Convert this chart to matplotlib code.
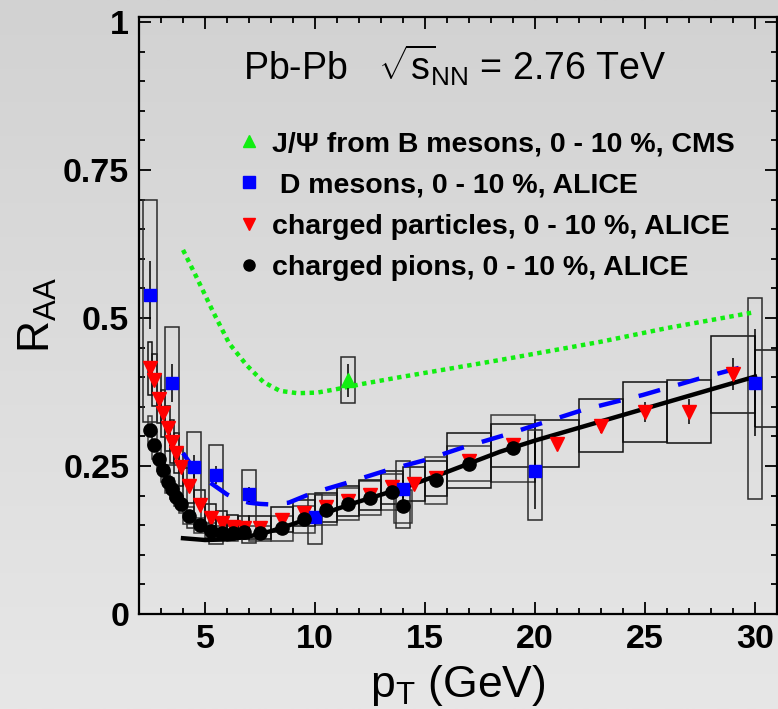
import numpy as np
import matplotlib.pyplot as plt
from matplotlib.lines import Line2D
from matplotlib.ticker import MultipleLocator
from matplotlib.colors import LinearSegmentedColormap

plt.rcParams['font.family'] = ['Liberation Sans', 'DejaVu Sans']
plt.rcParams['mathtext.fontset'] = 'custom'
plt.rcParams['mathtext.rm'] = 'Liberation Sans'
plt.rcParams['mathtext.it'] = 'Liberation Sans'
plt.rcParams['mathtext.bf'] = 'Liberation Sans:bold'

# charged pions, 0-10 %, ALICE
pt_pi = [2.5, 2.7, 2.9, 3.1, 3.3, 3.5, 3.7, 3.9, 4.25, 4.75, 5.25, 5.75, 6.25,
         6.75, 7.5, 8.5, 9.5, 10.5, 11.5, 12.5, 13.5, 14.0, 15.5, 17.0, 19.0]
raa_pi = [0.31, 0.285, 0.262, 0.243, 0.223, 0.212, 0.198, 0.185, 0.166, 0.150,
          0.141, 0.137, 0.136, 0.139, 0.136, 0.145, 0.16, 0.176, 0.186, 0.196,
          0.206, 0.182, 0.226, 0.254, 0.28]
sys_pi = [0.025, 0.023, 0.021, 0.02, 0.018, 0.017, 0.016, 0.015, 0.014, 0.013,
          0.012, 0.012, 0.012, 0.012, 0.013, 0.021, 0.023, 0.025, 0.027, 0.028,
          0.03, 0.028, 0.04, 0.03, 0.057]
dpt_pi = [0.1, 0.1, 0.1, 0.1, 0.1, 0.1, 0.1, 0.1, 0.25, 0.25, 0.25, 0.25, 0.25,
          0.25, 0.5, 0.5, 0.5, 0.5, 0.5, 0.5, 0.5, 0.4, 0.5, 1.0, 1.0]

# charged particles, 0-10 %, ALICE
pt_ch = [2.5, 2.7, 2.9, 3.1, 3.3, 3.5, 3.7, 3.9, 4.25, 4.75, 5.25, 5.75, 6.25,
         6.75, 7.5, 8.5, 9.5, 10.5, 11.5, 12.5, 13.5, 14.5, 15.5, 17, 19, 21,
         23, 25, 27, 29, 32]
raa_ch = [0.415, 0.395, 0.364, 0.339, 0.314, 0.291, 0.272, 0.249, 0.217, 0.184,
          0.162, 0.153, 0.147, 0.146, 0.146, 0.159, 0.171, 0.18, 0.191, 0.201,
          0.214, 0.22, 0.229, 0.259, 0.285, 0.288, 0.318, 0.341, 0.342, 0.405,
          0.381]
stat_ch = [0.003, 0.003, 0.003, 0.003, 0.003, 0.003, 0.003, 0.003, 0.003, 0.003,
           0.003, 0.003, 0.003, 0.003, 0.003, 0.003, 0.003, 0.004, 0.004, 0.004,
           0.005, 0.005, 0.006, 0.007, 0.008, 0.01, 0.012, 0.017, 0.021, 0.027,
           0.03]
sys_ch = [0.045, 0.044, 0.042, 0.04, 0.038, 0.036, 0.034, 0.032, 0.03, 0.026,
          0.023, 0.021, 0.02, 0.02, 0.02, 0.021, 0.022, 0.024, 0.025, 0.026,
          0.028, 0.029, 0.03, 0.046, 0.036, 0.039, 0.045, 0.051, 0.053, 0.065,
          0.065]
dpt_ch = [0.1, 0.1, 0.1, 0.1, 0.1, 0.1, 0.1, 0.1, 0.25, 0.25, 0.25, 0.25, 0.25,
          0.25, 0.5, 0.5, 0.5, 0.5, 0.5, 0.5, 0.5, 0.5, 0.5, 1.0, 1.0, 1.0,
          1.0, 1.0, 1.0, 1.0, 2.0]

# D mesons, 0-10 %, ALICE
pt_d = [2.5, 3.5, 4.5, 5.5, 7.0, 10.0, 14.0, 20.0, 30.0]
raa_d = [0.539, 0.39, 0.249, 0.235, 0.202, 0.164, 0.211, 0.242, 0.391]
stat_d = [0.057, 0.032, 0.02, 0.015, 0.012, 0.01, 0.015, 0.065, 0.09]
sys_d_lo = [0.214, 0.138, 0.104, 0.116, 0.082, 0.046, 0.066, 0.083, 0.196]
sys_d_hi = [0.161, 0.095, 0.059, 0.05, 0.041, 0.038, 0.048, 0.069, 0.143]

# J/psi from B mesons, 0-10 %, CMS
pt_jpsi = [11.5]
raa_jpsi = [0.395]
stat_jpsi = [0.028]
sys_jpsi = [0.039]

# model curves
pt_m_pi = [4.0, 5.0, 6.0, 7.0, 8.0, 9.0, 10.0, 12.0, 14.0, 16.0, 18.4, 20.0, 25.0, 30.0]
raa_m_pi = [0.128, 0.125, 0.126, 0.131, 0.14, 0.152, 0.165, 0.19, 0.213, 0.24,
            0.274, 0.293, 0.347, 0.401]
pt_m_d = [4.0, 4.4, 5.0, 5.5, 6.0, 6.5, 7.0, 7.5, 8.0, 8.8, 9.85, 11.4, 13.2,
          15.0, 16.7, 18.6, 19.6, 22.2, 24.9, 27.5, 29.5]
raa_m_d = [0.272, 0.25, 0.228, 0.215, 0.202, 0.193, 0.188, 0.186, 0.185, 0.188,
           0.204, 0.221, 0.242, 0.26, 0.281, 0.302, 0.314, 0.345, 0.37, 0.398,
           0.418]
pt_m_b = [4.0, 4.6, 5.4, 6.1, 6.9, 7.65, 8.4, 9.2, 10.1, 11.0, 12.2, 14.0, 17.0,
          19.0, 23.0, 26.0, 30.0]
raa_m_b = [0.615, 0.57, 0.508, 0.457, 0.42, 0.392, 0.377, 0.373, 0.374, 0.38,
           0.389, 0.401, 0.42, 0.433, 0.46, 0.483, 0.51]

fig = plt.figure(figsize=(7.78, 7.09), dpi=100)

# grey gradient background
bg = fig.add_axes([0, 0, 1, 1], zorder=-5)
cmap = LinearSegmentedColormap.from_list('bg', ['#d2d2d2', '#e7e7e7'])
bg.imshow(np.linspace(0, 1, 256).reshape(-1, 1), cmap=cmap, aspect='auto',
          extent=[0, 1, 0, 1], origin='upper')
bg.axis('off')

ax = fig.add_axes([0.1787, 0.134, 0.820, 0.842])
ax.set_facecolor('none')

box = dict(fill=False, linewidth=1.1, zorder=2)

# systematic boxes
ax.bar(pt_pi, 2 * np.array(sys_pi), bottom=np.array(raa_pi) - sys_pi,
       width=2 * np.array(dpt_pi), edgecolor='#3a3a3a', **box)
ax.bar(pt_ch, 2 * np.array(sys_ch), bottom=np.array(raa_ch) - sys_ch,
       width=2 * np.array(dpt_ch), edgecolor='#111111', **box)
ax.bar(pt_d, np.array(sys_d_lo) + sys_d_hi, bottom=np.array(raa_d) - sys_d_lo,
       width=0.6, edgecolor='#2a2a2a', **box)
ax.bar(pt_jpsi, 2 * np.array(sys_jpsi), bottom=np.array(raa_jpsi) - sys_jpsi,
       width=0.6, edgecolor='#2a2a2a', **box)

# model curves
ax.plot(pt_m_b, raa_m_b, color='#11ee11', lw=3.2, dashes=(1, 1), zorder=3)
ax.plot(pt_m_d, raa_m_d, color='#0000ff', lw=3.2, dashes=(5, 4.2), zorder=3)
ax.plot(pt_m_pi, raa_m_pi, color='black', lw=3.2, zorder=3)

# data points with stat errors
eb = dict(ls='none', ecolor='black', elinewidth=1.1, capsize=0, zorder=4)
ax.errorbar(pt_ch, raa_ch, yerr=stat_ch, marker='v', ms=10, mfc='red',
            mec='red', **eb)
ax.errorbar(pt_d, raa_d, yerr=stat_d, marker='s', ms=9, mfc='blue',
            mec='blue', **eb)
ax.errorbar(pt_jpsi, raa_jpsi, yerr=stat_jpsi, marker='^', ms=10,
            mfc='#11ee11', mec='#11ee11', **eb)
ax.plot(pt_pi, raa_pi, ls='none', marker='o', ms=9.5, color='black', zorder=5)

ax.set_xlim(2, 31)
ax.set_ylim(0, 1.0085)
ax.set_xticks([5, 10, 15, 20, 25, 30])
ax.set_yticks([0, 0.25, 0.5, 0.75, 1.0])
ax.set_yticklabels(['0', '0.25', '0.5', '0.75', '1'])
ax.xaxis.set_minor_locator(MultipleLocator(1))
ax.yaxis.set_minor_locator(MultipleLocator(0.05))
ax.tick_params(which='both', direction='in', top=True, right=True, width=1.3,
               labelsize=24.5)
ax.tick_params(which='major', length=8.5, pad=7)
ax.tick_params(which='minor', length=4.3)
for lab in ax.get_xticklabels() + ax.get_yticklabels():
    lab.set_fontweight('bold')
for sp in ax.spines.values():
    sp.set_linewidth(1.6)

fig.text(243 / 778, 1 - 80 / 709, r'Pb-Pb   $\sqrt{s}_{\!NN}$ = 2.76 TeV',
         fontsize=27, ha='left', va='baseline')
fig.text(458 / 778, 1 - 697 / 709, r'$\mathregular{p_{T}}$ (GeV)',
         fontsize=32, ha='center', va='baseline')
fig.text(38 / 778, 1 - 315 / 709, r'$\mathregular{R_{AA}}$', fontsize=32,
         rotation=90, ha='center', va='center')

handles = [
    Line2D([], [], ls='none', marker='^', ms=8.5, color='#11ee11'),
    Line2D([], [], ls='none', marker='s', ms=8, color='blue'),
    Line2D([], [], ls='none', marker='v', ms=8.5, color='red'),
    Line2D([], [], ls='none', marker='o', ms=8, color='black'),
]
labels = ['J/Ψ from B mesons, 0 - 10 %, CMS',
          ' D mesons, 0 - 10 %, ALICE',
          'charged particles, 0 - 10 %, ALICE',
          'charged pions, 0 - 10 %, ALICE']
fig.legend(handles, labels, loc='upper left',
           bbox_to_anchor=(237.6 / 778, 1 - 131 / 709),
           frameon=False, prop=dict(size=20.5, weight='bold'),
           handlelength=0.8, handletextpad=0.4, borderpad=0,
           borderaxespad=0, labelspacing=0.54, numpoints=1)

fig.savefig('out.png', dpi=100)
